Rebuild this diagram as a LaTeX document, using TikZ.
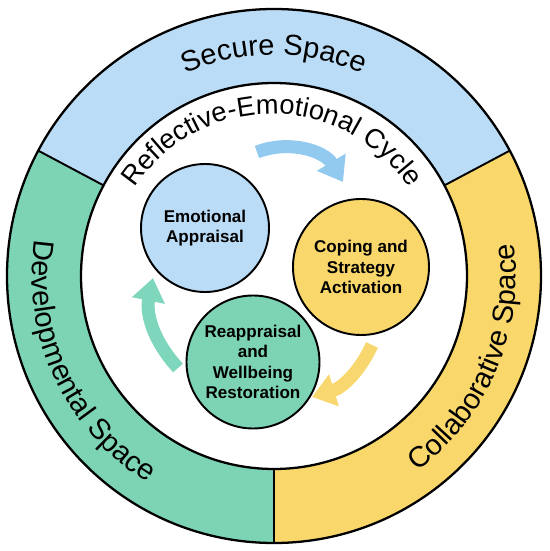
\documentclass[tikz,border=0pt]{standalone}
\usepackage{fontspec}
\setmainfont{Liberation Sans}
\usetikzlibrary{arrows.meta,decorations.text}

\definecolor{secureblue}{HTML}{BBDCF6}
\definecolor{devgreen}{HTML}{7DD4B4}
\definecolor{collabyellow}{HTML}{F9D76B}
\definecolor{arrowblue}{HTML}{92C9EF}
\definecolor{arrowgreen}{HTML}{7ED6BC}
\definecolor{arrowyellow}{HTML}{F8D86E}

\tikzset{
  stage/.style={circle, draw=black, line width=1.1pt, minimum size=#1, inner sep=0pt, align=center,
    font=\fontsize{9.7}{11.6}\selectfont\bfseries},
  cyclearrow/.style={line width=0.26cm, -{Triangle[width=0.64cm,length=0.46cm]}},
  ringtext/.style={decorate, decoration={text along path, text align=center,
    text={|\fontsize{16.5}{20}\selectfont|#1}}}
}

\begin{document}
\begin{tikzpicture}
\useasboundingbox (-5.48,-5.50) rectangle (5.52,5.52);
% the three spaces
\fill[secureblue] (28:5.34) arc[start angle=28,end angle=152,radius=5.34] -- (152:3.86) arc[start angle=152,end angle=28,radius=3.86] -- cycle;
\fill[devgreen] (152:5.34) arc[start angle=152,end angle=270,radius=5.34] -- (270:3.86) arc[start angle=270,end angle=152,radius=3.86] -- cycle;
\fill[collabyellow] (270:5.34) arc[start angle=270,end angle=388,radius=5.34] -- (388:3.86) arc[start angle=388,end angle=270,radius=3.86] -- cycle;
\draw[line width=1.3pt] (0,0) circle (5.34);
\draw[line width=1.3pt] (0,0) circle (3.86);
\foreach \a in {28,152,270}
  \draw[line width=1.1pt] (\a:3.86) -- (\a:5.34);

\path[ringtext={Secure Space}] (152:4.42) arc[start angle=152,end angle=28,radius=4.42];
\path[ringtext={Developmental Space}] (150:4.84) arc[start angle=150,end angle=260,radius=4.84];
\path[ringtext={Collaborative Space}] (282:4.84) arc[start angle=282,end angle=392,radius=4.84];
\path[decorate, decoration={text along path, text align=center,
    text={|\fontsize{15.5}{18}\selectfont|Reflective-Emotional Cycle}}]
  ([shift={(-0.04,-0.06)}]170:3.3) arc[start angle=170,end angle=10,radius=3.3];

% the cycle
\node[stage=2.56cm, fill=secureblue] (appraisal) at (-1.38,0.96) {Emotional\\Appraisal};
\node[stage=2.72cm, fill=collabyellow] (coping) at (1.74,0.18) {Coping and\\Strategy\\Activation};
\node[stage=2.66cm, fill=devgreen] (reappraisal) at (-0.42,-1.72) {Reappraisal\\and\\Wellbeing\\Restoration};

\coordinate (bluetail) at (-0.34,2.48);
\coordinate (bluehead) at (1.38,1.88);
\coordinate (yellowtail) at (1.96,-1.38);
\coordinate (yellowhead) at (0.76,-2.42);
\coordinate (greentail) at (-1.92,-1.84);
\coordinate (greenhead) at (-2.42,-0.04);
\draw[cyclearrow, arrowblue] (bluetail) to[bend left=40] (bluehead);
\draw[cyclearrow, arrowyellow] (yellowtail) to[bend left=24] (yellowhead);
\draw[cyclearrow, arrowgreen] (greentail) to[bend left=27] (greenhead);
\end{tikzpicture}
\end{document}
